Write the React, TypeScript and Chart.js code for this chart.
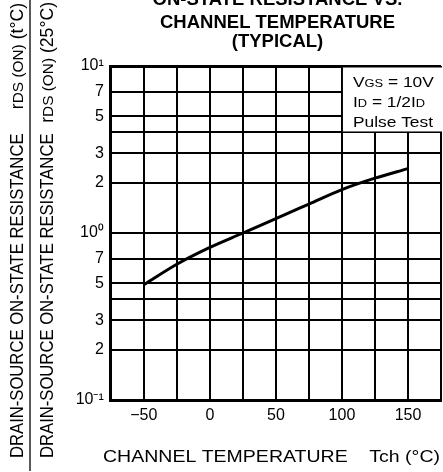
import React, { useEffect, useRef } from 'react';
import { Chart, registerables } from 'chart.js';

Chart.register(...registerables);

// ---- data ----
const temps = [-50, -25, 0, 25, 50, 75, 100, 125, 150];
const ratio = [0.49, 0.65, 0.82, 1.0, 1.22, 1.49, 1.82, 2.13, 2.43];

const xMin = -75;
const xMax = 175;
const xStep = 25;
const xLabelValues = [-50, 0, 50, 100, 150];
const xLabelTexts = ['−50', '0', '50', '100', '150'];

const yMin = 0.1;
const yMax = 10;
const yGridValues = [0.1, 0.2, 0.3, 0.4, 0.5, 0.7, 1, 2, 3, 4, 5, 7, 10];
const yTickLabels = ['10⁻¹', '2', '3', '', '5', '7', '10⁰', '2', '3', '', '5', '7', '10¹'];

const titleLines = ['ON-STATE RESISTANCE VS.', 'CHANNEL TEMPERATURE', '(TYPICAL)'];
const xAxisTitle = 'CHANNEL TEMPERATURE    Tch (°C)';
const yLabelMain = 'DRAIN-SOURCE ON-STATE RESISTANCE';
type Part = [string, number];
const yNumSuffix: Part[] = [['r', 0], ['DS (ON)', 1], [' (t°C)', 0]];
const yDenSuffix: Part[] = [['r', 0], ['DS (ON)', 1], [' (25°C)', 0]];
const noteLines: Part[][] = [
  [['V', 0], ['GS', 1], [' = 10V', 0]],
  [['I', 0], ['D', 1], [' = 1/2', 0], ['I', 0], ['D', 1]],
  [['Pulse Test', 0]],
];
const noteBoxFrom = { x: 100, y: 4 };

const FONT = '"Liberation Sans", Arial, Helvetica, sans-serif';

function partsWidth(ctx: CanvasRenderingContext2D, parts: Part[], size: number, small: number, bold = false) {
  let w = 0;
  for (const [t, s] of parts) {
    ctx.font = `${bold ? 'bold ' : ''}${s ? small : size}px ${FONT}`;
    w += ctx.measureText(t).width;
  }
  return w;
}
function drawParts(ctx: CanvasRenderingContext2D, parts: Part[], size: number, small: number, bold = false) {
  let x = 0;
  for (const [t, s] of parts) {
    ctx.font = `${bold ? 'bold ' : ''}${s ? small : size}px ${FONT}`;
    ctx.fillText(t, x, 0);
    x += ctx.measureText(t).width;
  }
}

const decorPlugin = {
  id: 'decor',
  beforeDatasetsDraw(chart: any) {
    const { ctx, chartArea, scales } = chart;
    const x0 = scales.x.getPixelForValue(noteBoxFrom.x) + 1;
    const y1 = scales.y.getPixelForValue(noteBoxFrom.y) - 1;
    ctx.save();
    ctx.fillStyle = '#ffffff';
    ctx.fillRect(x0, chartArea.top + 1.5, chartArea.right + 5 - x0, y1 - chartArea.top - 1.5);
    ctx.restore();
  },
  afterDraw(chart: any) {
    const { ctx, scales } = chart;
    ctx.save();
    ctx.fillStyle = '#000';
    ctx.textBaseline = 'alphabetic';

    // title
    ctx.textAlign = 'center';
    ctx.font = `bold 18.5px ${FONT}`;
    const tb = [5, 28.3, 46.7];
    titleLines.forEach((t, i) => ctx.fillText(t, 277.5, tb[i]));

    // x axis title (stretched like the reference)
    ctx.textAlign = 'left';
    ctx.font = `16px ${FONT}`;
    const xw = ctx.measureText(xAxisTitle).width;
    ctx.save();
    ctx.translate(103, 462);
    ctx.scale(337 / xw, 1);
    ctx.fillText(xAxisTitle, 0, 0);
    ctx.restore();

    // note box text
    const nx = scales.x.getPixelForValue(noteBoxFrom.x) + 11;
    const nb = [87.3, 107, 126.5];
    noteLines.forEach((parts, i) => {
      ctx.save();
      ctx.translate(nx, nb[i]);
      ctx.scale(1.12, 1);
      drawParts(ctx, parts, 15.5, 11.5);
      ctx.restore();
    });

    // y label as fraction
    const drawY = (baseX: number, endY: number, suffix: Part[]) => {
      ctx.save();
      ctx.translate(baseX, 458);
      ctx.rotate(-Math.PI / 2);
      ctx.scale(1.04, 1.1);
      ctx.font = `16px ${FONT}`;
      ctx.fillText(yLabelMain, 0, 0);
      ctx.restore();
      ctx.save();
      ctx.translate(baseX, endY);
      ctx.rotate(-Math.PI / 2);
      ctx.scale(1.1, 1.1);
      const w = partsWidth(ctx, suffix, 16, 14);
      ctx.translate(-w, 0);
      drawParts(ctx, suffix, 16, 14);
      ctx.restore();
    };
    drawY(23.3, 3, yNumSuffix);
    drawY(53.3, 2, yDenSuffix);

    ctx.strokeStyle = '#000';
    ctx.lineWidth = 1.3;
    ctx.beginPath();
    ctx.moveTo(30, 0);
    ctx.lineTo(30, 471);
    ctx.stroke();
    ctx.restore();
  },
};

export default function App() {
  const ref = useRef<HTMLCanvasElement | null>(null);
  useEffect(() => {
    if (!ref.current) return;
    const chart = new Chart(ref.current, {
      type: 'line',
      data: {
        datasets: [
          {
            data: temps.map((t, i) => ({ x: t, y: ratio[i] })),
            borderColor: '#000',
            borderWidth: 3,
            pointRadius: 0,
            fill: false,
            cubicInterpolationMode: 'monotone',
          },
        ],
      },
      options: {
        responsive: false,
        animation: false,
        devicePixelRatio: 1,
        layout: { padding: { left: 0, right: 1.2, top: 66, bottom: 0 } },
        plugins: { legend: { display: false }, title: { display: false }, tooltip: { enabled: false } },
        scales: {
          x: {
            type: 'linear',
            min: xMin,
            max: xMax,
            afterFit: (s: any) => {
              s.height = 72;
            },
            ticks: {
              stepSize: xStep,
              autoSkip: false,
              maxRotation: 0,
              padding: 6,
              color: '#000',
              font: { size: 16, family: FONT },
              callback: (v: any) => {
                const i = xLabelValues.indexOf(Number(v));
                return i >= 0 ? xLabelTexts[i] : '';
              },
            },
            grid: { color: '#000', lineWidth: 2, drawTicks: false },
            border: { display: true, color: '#000', width: 3 },
          },
          y: {
            type: 'logarithmic',
            min: yMin,
            max: yMax,
            afterFit: (s: any) => {
              s.width = 110.8;
            },
            afterBuildTicks: (s: any) => {
              s.ticks = yGridValues.map((v) => ({ value: v }));
            },
            ticks: {
              autoSkip: false,
              padding: 7,
              color: '#000',
              font: { size: 16, family: FONT },
              callback: (_v: any, i: number) => yTickLabels[i],
            },
            grid: {
              color: '#000',
              lineWidth: (c: any) => (c.tick && c.tick.value === yMax ? 3 : 2),
              drawTicks: false,
            },
            border: { display: true, color: '#000', width: 3 },
          },
        },
      },
      plugins: [decorPlugin],
    } as any);
    return () => chart.destroy();
  }, []);
  return (
    <div
      style={{
        position: 'fixed',
        left: 0,
        top: 0,
        width: 443,
        height: 472,
        overflow: 'hidden',
        background: '#fff',
      }}
    >
      <canvas ref={ref} width={447} height={472} style={{ display: 'block', width: 447, height: 472 }} />
    </div>
  );
}
